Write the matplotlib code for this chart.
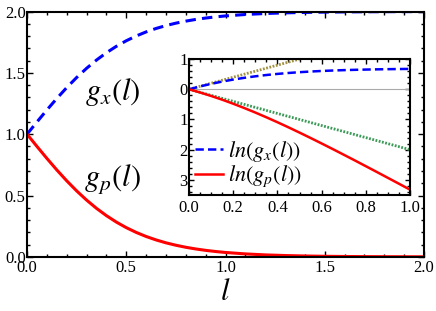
import matplotlib
matplotlib.use("Agg")
import matplotlib.pyplot as plt
from matplotlib.ticker import MultipleLocator, FixedLocator, FixedFormatter
import numpy as np

plt.rcParams['font.family'] = ['Liberation Serif', 'DejaVu Serif']
plt.rcParams['mathtext.fontset'] = 'stix'
plt.rcParams['lines.scale_dashes'] = False

# values
l = [0.0, 0.05, 0.1, 0.15, 0.2, 0.25, 0.3, 0.35, 0.4, 0.45, 0.5,
     0.55, 0.6, 0.65, 0.7, 0.75, 0.8, 0.85, 0.9, 0.95, 1.0,
     1.1, 1.2, 1.3, 1.4, 1.5, 1.6, 1.7, 1.8, 1.9, 2.0]
gx = [1.0, 1.0997, 1.1974, 1.2913, 1.3799, 1.4621, 1.5370, 1.6044, 1.6640, 1.7163, 1.7616,
      1.8005, 1.8337, 1.8617, 1.8854, 1.9051, 1.9217, 1.9354, 1.9468, 1.9562, 1.9640,
      1.9757, 1.9837, 1.9890, 1.9926, 1.9951, 1.9967, 1.9978, 1.9985, 1.9990, 1.9993]
gp = [1.0, 0.9003, 0.8026, 0.7087, 0.6201, 0.5379, 0.4630, 0.3956, 0.3360, 0.2837, 0.2384,
      0.1995, 0.1663, 0.1383, 0.1146, 0.0949, 0.0783, 0.0646, 0.0532, 0.0438, 0.0360,
      0.0243, 0.0163, 0.0110, 0.0074, 0.0049, 0.0033, 0.0022, 0.0015, 0.0010, 0.0007]
# reference lines in the inset
ref_up_l = [0.0, 0.5]
ref_up_y = [0.0, 1.0]
ref_dn_l = [0.0, 1.0]
ref_dn_y = [0.0, -2.0]

n_in = 21  # inset uses l <= 1
ln_gx = np.log(gx[:n_in])
ln_gp = np.log(gp[:n_in])

BLUE = '#0000FF'
RED = '#FF0000'
GREEN = '#3A9A55'
OLIVE = '#A09040'

fig = plt.figure(figsize=(4.36, 3.11), dpi=100)
ax = fig.add_axes([0.062, 0.174, 0.9105, 0.789])
ax.plot(l, gx, color=BLUE, lw=2.2, dashes=(7.5, 4.5))
ax.plot(l, gp, color=RED, lw=2.2)
ax.set_xlim(0, 2)
ax.set_ylim(0, 2)
ax.xaxis.set_major_locator(MultipleLocator(0.5))
ax.xaxis.set_minor_locator(MultipleLocator(0.1))
ax.yaxis.set_major_locator(MultipleLocator(0.5))
ax.yaxis.set_minor_locator(MultipleLocator(0.1))
ax.xaxis.set_major_formatter(matplotlib.ticker.FormatStrFormatter('%.1f'))
ax.yaxis.set_major_formatter(matplotlib.ticker.FormatStrFormatter('%.1f'))
ax.tick_params(which='both', direction='in', top=True, right=True, labelsize=12, width=1)
ax.tick_params(which='major', length=4.5)
ax.tick_params(which='minor', length=2.5)
for s in ax.spines.values():
    s.set_linewidth(1.5)
ax.tick_params(axis='x', pad=2)
ax.tick_params(axis='y', pad=1)
ax.set_xlabel(r'$l$', fontsize=22, labelpad=2)
ax.text(0.43, 1.34, r'$g_x(l)$', fontsize=22, ha='center', va='center')
ax.text(0.43, 0.63, r'$g_p(l)$', fontsize=22, ha='center', va='center')

ins = fig.add_axes([0.4335, 0.373, 0.507, 0.437])
ins.axhline(0, color='#AAAAAA', lw=0.8)
ins.plot(ref_up_l, ref_up_y, color=OLIVE, lw=2.0, dashes=(1.3, 1.1))
ins.plot(ref_dn_l, ref_dn_y, color=GREEN, lw=2.0, dashes=(1.3, 1.1))
ins.plot(l[:n_in], ln_gx, color=BLUE, lw=1.8, dashes=(6, 3), label=r'$ln(g_x(l))$')
ins.plot(l[:n_in], ln_gp, color=RED, lw=1.8, label=r'$ln(g_p(l))$')
ins.set_xlim(0, 1)
ins.set_ylim(-3.5, 1)
ins.xaxis.set_major_locator(MultipleLocator(0.2))
ins.xaxis.set_minor_locator(MultipleLocator(0.05))
ins.yaxis.set_major_locator(FixedLocator([1, 0, -1, -2, -3]))
ins.yaxis.set_major_formatter(FixedFormatter(['1', '0', '1', '2', '3']))
ins.yaxis.set_minor_locator(MultipleLocator(0.2))
ins.xaxis.set_major_formatter(matplotlib.ticker.FormatStrFormatter('%.1f'))
ins.tick_params(which='both', direction='in', top=True, right=True, labelsize=12, width=1)
ins.tick_params(which='major', length=3.5)
ins.tick_params(which='minor', length=2)
ins.tick_params(axis='y', pad=1)
for s in ins.spines.values():
    s.set_linewidth(1.5)
ins.legend(loc='lower left', frameon=False, fontsize=16, handlelength=1.3,
           handletextpad=0.2, borderaxespad=0.05, labelspacing=0.0,
           borderpad=0.2)

fig.savefig('out.png', dpi=100)
